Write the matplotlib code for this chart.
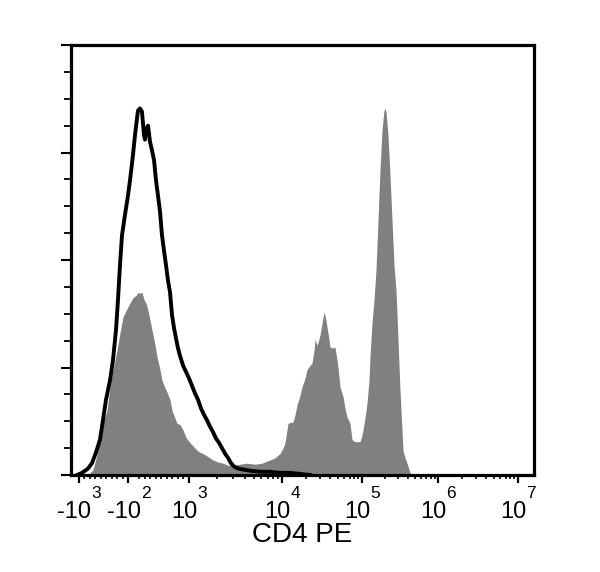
import numpy as np
import matplotlib
matplotlib.use("Agg")
import matplotlib.pyplot as plt
from matplotlib.ticker import FixedLocator

# =========================================================
# DATA  (fluorescence value, event count)
# =========================================================
# isotype / unstained control (black outline)
ctrl_x = [-1050, -945, -836, -764, -691, -618, -564, -509, -436, -382,
          -327, -291, -255, -218, -164, -109, -73, -18, 18, 55,
          73, 109, 145, 182, 200, 218, 255, 291, 327, 364,
          400, 436, 473, 509, 545, 582, 618, 655, 691, 727,
          764, 800, 836, 891, 945, 1000, 1077, 1160, 1250, 1346,
          1449, 1562, 1682, 1812, 1951, 2102, 2264, 2438, 2626, 2829,
          3047, 3364, 3903, 4530, 5800, 7430, 9510, 12590, 16790, 22390]
ctrl_y = [0, 2, 6, 11, 21, 33, 51, 70, 88, 107,
          135, 163, 195, 223, 242, 260, 274, 298, 316, 332,
          339, 341, 338, 316, 312, 321, 325, 310, 302, 293,
          274, 260, 245, 223, 209, 195, 181, 170, 149, 137,
          127, 118, 111, 102, 96, 90, 83, 76, 70, 62,
          56, 51, 45, 40, 34, 30, 25, 20, 16, 11,
          8, 6, 5, 4, 3, 3, 2, 2, 1, 0]

# CD4 PE stained sample (grey fill)
cd4_x = [-836, -745, -673, -618, -564, -491, -436, -382, -309, -255,
         -200, -145, -73, -18, 36, 73, 109, 145, 182, 218,
         255, 291, 327, 382, 418, 473, 509, 564, 600, 655,
         691, 745, 782, 836, 891, 945, 1025, 1132, 1219, 1313,
         1414, 1601, 1812, 2050, 2321, 2626, 2972, 3534, 4204, 5126,
         6095, 7430, 8410, 9510, 10290, 10900, 11550, 11890, 12960, 13730,
         14540, 15400, 16790, 17780, 19390, 20540, 22390, 23710, 25120, 25850,
         27380, 28180, 29850, 31620, 33500, 35480, 36520, 38680, 39810, 43400,
         45970, 48700, 50120, 53090, 56230, 57880, 61310, 64940, 70790, 74990,
         81750, 89130, 94410, 100000, 103100, 109500, 116400, 123600, 127400, 131300,
         135400, 143900, 152900, 162400, 172500, 183300, 194800, 200700, 206900, 219800,
         233600, 248200, 263700, 280200, 297600, 316200, 336000, 346400, 368100, 391000,
         415500, 441500]
cd4_y = [0, 5, 19, 33, 48, 60, 82, 98, 116, 132,
         147, 153, 160, 165, 167, 170, 169, 170, 163, 160,
         153, 144, 135, 121, 110, 98, 88, 81, 77, 70,
         60, 53, 48, 47, 42, 35, 30, 26, 23, 21,
         20, 17, 14, 12, 11, 9, 9, 10, 11, 10,
         11, 14, 16, 20, 25, 30, 42, 48, 49, 49,
         56, 65, 74, 82, 90, 98, 102, 104, 116, 126,
         121, 123, 130, 141, 152, 144, 138, 126, 119, 118,
         119, 107, 100, 82, 76, 73, 62, 54, 48, 33,
         31, 31, 31, 37, 42, 53, 67, 88, 110, 126,
         141, 163, 191, 237, 284, 321, 339, 341, 338, 316,
         279, 237, 195, 172, 126, 79, 42, 23, 16, 11,
         5, 0]

major_ticks = [-1000, -100, 1000, 1e4, 1e5, 1e6, 1e7]
label_base  = ["-10", "-10", "10", "10", "10", "10", "10"]
label_exp   = ["3", "2", "3", "4", "5", "6", "7"]
x_label = "CD4 PE"

# =========================================================
# BIEXPONENTIAL-LIKE SCALE (linear inside +-1000, log outside)
# =========================================================
LIN_SLOPE = 0.055
DEC = np.array([3.0, 4.0, 5.0, 6.0, 7.0])
POS = np.array([55.0, 148.0, 228.0, 304.0, 384.0])


def fwd(x):
    x = np.asarray(x, dtype=float)
    a = np.abs(x)
    la = np.log10(np.maximum(a, 1000.0))
    lg = np.interp(la, DEC, POS)
    lg = np.where(la > DEC[-1], POS[-1] + (la - DEC[-1]) * 80.0, lg)
    out = np.where(a <= 1000.0, a * LIN_SLOPE, lg)
    return np.sign(x) * out


def inv(p):
    p = np.asarray(p, dtype=float)
    a = np.abs(p)
    la = np.interp(a, POS, DEC)
    la = np.where(a > POS[-1], DEC[-1] + (a - POS[-1]) / 80.0, la)
    lg = 10.0 ** la
    out = np.where(a <= POS[0], a / LIN_SLOPE, lg)
    return np.sign(p) * out


# =========================================================
# PLOT
# =========================================================
plt.rcParams["font.family"] = ["Liberation Sans", "DejaVu Sans"]

fig = plt.figure(figsize=(6.0, 5.72), dpi=100)
ax = fig.add_axes([71 / 600, 97 / 572, 463 / 600, 430 / 572])
ax.set_xscale("function", functions=(fwd, inv))

ax.fill_between(cd4_x, cd4_y, 0, color="#808080", linewidth=0, zorder=2)
ax.plot(ctrl_x, ctrl_y, color="black", linewidth=2.8, zorder=3)

ax.set_xlim(-1219, 1.585e7)
ax.set_ylim(0, 400)

# x ticks
minor = [-v for v in range(100, 1000, 100)] + list(range(100, 1000, 100))
for dec in [1e3, 1e4, 1e5, 1e6]:
    minor += [k * dec for k in range(2, 10)]
ax.xaxis.set_major_locator(FixedLocator(major_ticks))
ax.xaxis.set_minor_locator(FixedLocator(minor))
ax.tick_params(axis="x", labelbottom=False)

# y ticks: no labels
ax.set_yticks(np.arange(0, 401, 100))
ax.set_yticks(np.arange(0, 401, 25), minor=True)
ax.set_yticklabels([])

ax.tick_params(axis="x", which="major", direction="out", length=5.5, width=1.6)
ax.tick_params(axis="x", which="minor", direction="out", length=3.2, width=1.2)
ax.tick_params(axis="y", which="major", direction="out", length=7, width=1.5)
ax.tick_params(axis="y", which="minor", direction="out", length=5, width=1.3)

for s in ax.spines.values():
    s.set_linewidth(2.3)

# tick labels: "10" with a raised exponent, whole label centred on the tick
BASE_Y, EXP_Y = -43, -23
pairs = []
for t, b, e in zip(major_ticks, label_base, label_exp):
    tb = ax.annotate(b, xy=(t, 0), xycoords=("data", "axes fraction"),
                     xytext=(0, BASE_Y), textcoords="offset pixels",
                     ha="right", va="baseline", fontsize=17)
    te = ax.annotate(e, xy=(t, 0), xycoords=("data", "axes fraction"),
                     xytext=(0, EXP_Y), textcoords="offset pixels",
                     ha="left", va="baseline", fontsize=12.5)
    pairs.append((tb, te))

fig.canvas.draw()
r = fig.canvas.get_renderer()
for tb, te in pairs:
    wb = tb.get_window_extent(r).width
    we = te.get_window_extent(r).width
    shift = (wb - we) / 2.0
    tb.xyann = (shift, BASE_Y)
    te.xyann = (shift, EXP_Y)

fig.text(302.5 / 600, 30 / 572, x_label, ha="center", va="baseline",
         fontsize=20)

fig.savefig("out.png", dpi=100)
